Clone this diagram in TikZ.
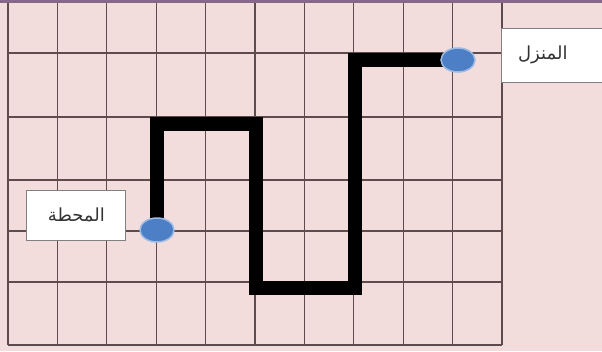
\documentclass[tikz,border=0pt]{standalone}
\usepackage{fontspec}
\usepackage{xcolor}
\usepackage{tikz}
\usetikzlibrary{shapes.geometric,positioning,backgrounds}
\newfontfamily\arabicfont[Script=Arabic]{DejaVu Sans}
\TeXXeTstate=1
\definecolor{pagepink}{HTML}{F2DCDC}
\definecolor{gridbrown}{HTML}{5E4B4E}
\definecolor{topmauve}{HTML}{86678A}
\definecolor{dotblue}{HTML}{4C7FC6}
\definecolor{dotrim}{HTML}{9DBBE3}

\begin{document}
\begin{tikzpicture}[x=1pt, y=-1pt, font=\arabicfont\fontsize{18}{20}\selectfont,
    gridline/.style={gridbrown, line width=1.3pt},
    route/.style={black, line width=14pt, line join=miter},
    stop/.style={draw=dotrim, line width=1.5pt, fill=dotblue, ellipse, minimum width=34pt, minimum height=24pt, inner sep=0pt},
    placebox/.style={draw=gray, line width=0.8pt, fill=white, rectangle, text=black!80}]
            \useasboundingbox (0,0) rectangle (602,351);
            \clip (0,0) rectangle (602,351);

            % Stops (station bottom left, home top right)
            \node[stop] (station) at (157,230) {};
            \node[stop] (home) at (458,60) {};

            % Name boxes
            \node[placebox, left=13pt of station, yshift=15pt, minimum width=99pt, minimum height=50pt] (stationname) {\beginR المحطة\endR};
            \node[placebox, right=25pt of home, yshift=5pt, minimum height=54pt, text width=80pt, align=left, inner xsep=17pt] (homename) {\beginR المنزل\endR};

            % Corners of the way
            \coordinate (t1) at (157,124);
            \coordinate (t2) at (256,124);
            \coordinate (b1) at (256,288);
            \coordinate (b2) at (355,288);
            \coordinate (t3) at (355,60);

            \begin{scope}[on background layer]
                % Paper and squares
                \fill[pagepink] (0,0) rectangle (602,351);
                \foreach \gx in {0,...,10}
                    \draw[gridline] (8+49.4*\gx,2) -- (8+49.4*\gx,345);
                \foreach \gy in {53,117,180,231,282,345}
                    \draw[gridline] (8,\gy) -- (502,\gy);
                \draw[topmauve, line width=3pt] (0,1.5) -- (602,1.5);

                % The way from station to home
                \draw[route] (station.center) -- (t1) -- (t2) -- (b1) -- (b2) -- (t3) -- (home.center);
            \end{scope}
        \end{tikzpicture}
\end{document}
